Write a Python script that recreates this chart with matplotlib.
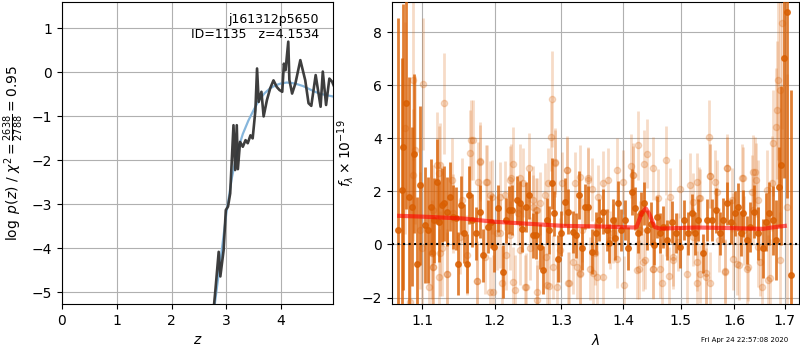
import matplotlib
matplotlib.use('Agg')
import matplotlib.pyplot as plt
from matplotlib.ticker import FormatStrFormatter, NullLocator

# --- p(z) panel ---
z_grid = [2.77, 2.80, 2.86, 2.89, 2.95, 2.99, 3.03, 3.07, 3.13, 3.16, 3.19, 3.21,
          3.25, 3.30, 3.35, 3.39, 3.44, 3.48, 3.53, 3.56, 3.59, 3.64, 3.68, 3.74,
          3.80, 3.86, 3.92, 3.97, 4.02, 4.05, 4.08, 4.13, 4.15, 4.20, 4.26, 4.35,
          4.44, 4.50, 4.55, 4.63, 4.72, 4.76, 4.82, 4.88, 4.93, 4.96]
logpz = [-5.35, -4.95, -4.08, -4.64, -4.04, -3.13, -3.05, -2.75, -1.20, -2.22, -1.20, -2.20,
         -1.58, -1.69, -1.54, -1.61, -1.43, -1.50, -0.86, 0.09, -0.67, -0.44, -1.00, -0.63,
         -0.36, -0.18, -0.33, -0.40, -0.44, 0.20, 0.05, 0.70, -0.17, -0.48, -0.25, 0.28,
         -0.18, -0.70, -0.76, -0.06, -0.78, 0.02, -0.74, -0.14, -0.21, -0.30]

z_smooth = [2.78, 2.90, 3.00, 3.10, 3.20, 3.30, 3.40, 3.50, 3.60, 3.70, 3.80, 3.90,
            4.00, 4.10, 4.20, 4.30, 4.40, 4.50, 4.60, 4.70, 4.80, 4.96]
logpz_smooth = [-5.35, -4.20, -3.20, -2.40, -1.80, -1.40, -1.10, -0.85, -0.62, -0.47, -0.36, -0.29,
                -0.25, -0.23, -0.24, -0.27, -0.31, -0.37, -0.43, -0.48, -0.51, -0.55]

# --- spectrum panel ---
dark_wave = [1.0688, 1.0732, 1.0753, 1.0787, 1.0826, 1.0861, 1.0891, 1.0934, 1.0970, 1.1036,
             1.1080, 1.1111, 1.1156, 1.1192, 1.1227, 1.1259, 1.1291, 1.1335, 1.1372, 1.1417,
             1.1454, 1.1486, 1.1523, 1.1565, 1.1602, 1.1638, 1.1680, 1.1732, 1.1789, 1.1836,
             1.1898, 1.1941, 1.1995, 1.2051, 1.2114, 1.2157, 1.2206, 1.2254, 1.2320, 1.2369,
             1.2403, 1.2458, 1.2508, 1.2559, 1.2605, 1.2669, 1.2719, 1.2771, 1.2807, 1.2849,
             1.2889, 1.2941, 1.2993, 1.3055, 1.3108, 1.3177, 1.3229, 1.3281, 1.3319, 1.3372,
             1.3415, 1.3480, 1.3550, 1.3603, 1.3670, 1.3726, 1.3769, 1.3825, 1.3863, 1.3908,
             1.3958, 1.4030, 1.4086, 1.4143, 1.4200, 1.4246, 1.4297, 1.4354, 1.4411, 1.4469,
             1.4527, 1.4574, 1.4632, 1.4690, 1.4761, 1.4839, 1.4915, 1.4987, 1.5059, 1.5126,
             1.5199, 1.5260, 1.5320, 1.5401, 1.5487, 1.5569, 1.5650, 1.5724, 1.5787, 1.5851,
             1.5927, 1.6010, 1.6074, 1.6121, 1.6172, 1.6238, 1.6300, 1.6379, 1.6464, 1.6551,
             1.6616, 1.6682, 1.6750, 1.6817, 1.6884, 1.6918, 1.6985, 1.7046, 1.7116]
dark_flux = [0.54, 2.05, 3.68, 5.32, 1.80, 1.42, 3.43, -0.72, 2.24, 0.73,
             0.54, 1.42, 0.92, 2.36, 0.85, 1.48, 1.55, 1.23, 1.80, 1.04,
             0.98, -0.72, 1.48, 0.42, -0.72, 1.86, 0.92, 0.42, 1.23, -0.40,
             0.66, 0.85, -0.09, 1.36, -1.03, 0.92, 1.29, 1.29, 1.67, 1.55,
             0.60, 1.42, 1.86, 0.35, 0.35, -0.09, -0.97, 0.92, 0.54, 2.30,
             1.17, -0.53, 0.42, 1.61, 1.23, 0.48, 0.35, 1.86, -0.15, 1.42,
             1.42, -0.28, 0.42, 0.92, 1.23, 0.54, 0.04, 0.92, 0.23, 1.55,
             0.54, 0.92, -0.15, 1.98, 1.36, 0.42, 1.17, 1.55, 0.54, 0.79,
             -0.03, 1.04, 0.42, 0.66, 0.16, 0.85, 0.42, -0.09, 0.92, 0.42,
             1.17, 0.42, 0.92, -0.34, 0.92, 0.92, 1.29, 0.42, 0.92, 1.55,
             0.85, 1.17, 1.42, 0.42, 1.17, 0.16, 0.66, 1.23, 0.42, -0.15,
             0.85, 1.17, 0.92, 0.16, 2.17, 2.99, 7.02, 8.75, -1.16]
dark_err = [8.0, 5.0, 5.4, 4.0, 4.5, 3.0, 3.0, 2.5, 3.0, 2.2,
            2.0, 1.8, 1.6, 1.6, 1.5, 1.4, 1.4, 1.3, 1.3, 1.2,
            1.2, 1.2, 1.1, 1.1, 1.1, 1.1, 1.0, 1.0, 1.0, 1.0,
            1.0, 1.0, 0.95, 0.9, 1.0, 0.85, 0.9, 0.95, 0.9, 0.85,
            0.9, 0.95, 0.9, 0.85, 0.9, 0.85, 0.9, 0.85, 0.9, 0.95,
            0.85, 0.9, 0.85, 0.9, 0.85, 0.8, 0.85, 0.9, 0.8, 0.85,
            0.8, 0.85, 0.8, 0.8, 0.85, 0.8, 0.75, 0.8, 0.8, 0.85,
            0.8, 0.75, 0.8, 0.85, 0.8, 0.75, 0.8, 0.8, 0.75, 0.8,
            0.75, 0.8, 0.75, 0.8, 0.75, 0.8, 0.75, 0.8, 0.75, 0.8,
            0.75, 0.8, 0.8, 0.75, 0.8, 0.8, 0.85, 0.8, 0.85, 0.8,
            0.85, 0.85, 0.9, 0.85, 0.9, 0.9, 0.95, 1.0, 1.0, 1.1,
            1.1, 1.2, 1.3, 1.5, 1.5, 3.0, 4.5, 7.0, 7.0]

light_wave = [1.0774, 1.0839, 1.0880, 1.0904, 1.0992, 1.1013, 1.1093, 1.1124, 1.1138, 1.1192,
              1.1222, 1.1227, 1.1259, 1.1295, 1.1327, 1.1395, 1.1532, 1.1602, 1.1648, 1.1694,
              1.1741, 1.1765, 1.1789, 1.1860, 1.1883, 1.1954, 1.1975, 1.2037, 1.2075, 1.2099,
              1.2221, 1.2231, 1.2259, 1.2269, 1.2369, 1.2418, 1.2453, 1.2508, 1.2518, 1.2569,
              1.2620, 1.2628, 1.2745, 1.2760, 1.2796, 1.2813, 1.2839, 1.2849, 1.2873, 1.2899,
              1.2936, 1.3004, 1.3082, 1.3123, 1.3213, 1.3249, 1.3292, 1.3319, 1.3425, 1.3453,
              1.3533, 1.3560, 1.3587, 1.3660, 1.3670, 1.3752, 1.3780, 1.3891, 1.3900, 1.4001,
              1.4010, 1.4129, 1.4170, 1.4257, 1.4265, 1.4285, 1.4354, 1.4371, 1.4411, 1.4504,
              1.4515, 1.4602, 1.4632, 1.4733, 1.4796, 1.4808, 1.4866, 1.4957, 1.5118, 1.5168,
              1.5217, 1.5229, 1.5290, 1.5299, 1.5338, 1.5462, 1.5524, 1.5530, 1.5536, 1.5630,
              1.5711, 1.5819, 1.5862, 1.5946, 1.5966, 1.6093, 1.6152, 1.6185, 1.6267, 1.6333,
              1.6365, 1.6418, 1.6464, 1.6470, 1.6530, 1.6656, 1.6730, 1.6750, 1.6817, 1.6844,
              1.6850, 1.6898, 1.6938, 1.7034,
              # second pass, points hidden among the denser parts
              1.0881, 1.1236, 1.1658, 1.1789, 1.1874, 1.1931, 1.2143, 1.2221, 1.2369, 1.2609,
              1.2669, 1.2899, 1.3082, 1.3292, 1.3425, 1.3480, 1.1236, 1.1124, 1.1145, 1.1327,
              1.1751, 1.1931, 1.2167, 1.2294, 1.2443, 1.2620, 1.2771, 1.3108, 1.3292, 1.3505,
              1.3186, 1.2977, 1.2075, 1.1509, 1.0970, 1.2344, 1.2569, 1.1145, 1.1417, 1.4170,
              1.4987, 1.5290, 1.5536, 1.5851, 1.6398, 1.6629, 1.5351, 1.5661, 1.6172, 1.4228,
              1.4515, 1.4866, 1.5351, 1.5466, 1.5819, 1.6049, 1.6238, 1.6497, 1.6696, 1.6898,
              1.4661, 1.4342, 1.3836, 1.4747, 1.5976, 1.6365]
light_flux = [4.38, -2.17, 6.20, 3.56, -0.15, 6.05, -1.60, -0.34, -0.85, 2.99,
              2.68, -1.22, -0.15, 5.32, -1.12, 2.43, 1.67, -0.40, 3.46, 3.94,
              -1.38, 2.36, 3.13, -0.47, 2.36, 1.80, -1.79, 0.42, 1.80, -1.47,
              0.35, 2.49, -1.41, 3.03, -0.22, 2.32, -1.62, 2.90, -0.15, 1.67,
              1.29, -2.08, 1.86, -0.47, 2.32, -1.57, 4.06, 5.48, -0.85, 3.09,
              -1.62, 2.30, 2.80, -1.47, 2.30, -0.85, -1.12, 0.54, 2.49, -0.91,
              -0.34, -1.22, 1.80, 2.32, -1.22, 2.43, 0.16, 2.80, -0.53, 2.36,
              -1.54, 2.97, 2.61, 3.75, -0.94, 0.54, 3.02, -0.59, 3.43, -0.91,
              2.87, 1.74, -0.91, 3.18, -1.20, 1.80, -0.59, 0.10, -1.12, 2.24,
              1.61, 0.29, -0.66, -1.45, 1.74, -1.09, 4.06, 2.58, -1.47, 2.36,
              0.16, -1.00, 2.87, 1.67, -0.53, -0.78, 2.49, 0.54, -0.85, 1.98,
              2.74, 2.43, 1.67, -0.09, -1.60, -1.35, 2.30, 3.81, 4.44, 5.07,
              6.20, 5.82, 8.34, 1.42,
              2.62, 2.99, 3.94, 3.12, 2.36, 1.86, 1.86, 2.43, 2.49, 1.29,
              1.55, 3.12, 2.80, 2.55, 2.43, 2.08, -0.34, -0.34, -0.85, -1.12,
              -1.37, -1.79, -0.40, -1.70, -1.60, -1.79, -1.54, -1.47, -1.09, -1.09,
              -0.66, -0.22, 0.42, 0.29, 0.54, 1.17, 1.42, 1.29, 1.17, 2.61,
              2.11, 2.36, 2.59, 2.87, 2.74, 2.05, 1.74, 1.98, 2.49, -0.97,
              -0.94, -0.47, -1.12, -1.22, -1.03, -0.72, -0.94, -0.66, -1.28, -0.59,
              -1.47, -0.66, 0.42, 0.66, 0.73, 1.29]
light_err = [4.0, 3.5, 3.0, 2.8, 2.5, 2.5, 2.2, 2.0, 2.0, 2.0,
             1.8, 1.8, 1.8, 1.9, 1.7, 1.6, 1.6, 1.5, 1.6, 1.5,
             1.5, 1.5, 1.5, 1.4, 1.4, 1.4, 1.4, 1.4, 1.3, 1.4,
             1.3, 1.3, 1.3, 1.4, 1.3, 1.3, 1.3, 1.3, 1.2, 1.3,
             1.2, 1.3, 1.2, 1.2, 1.3, 1.2, 1.3, 1.8, 1.2, 1.3,
             1.2, 1.2, 1.3, 1.2, 1.2, 1.2, 1.2, 1.2, 1.2, 1.2,
             1.2, 1.2, 1.2, 1.2, 1.2, 1.2, 1.1, 1.2, 1.1, 1.2,
             1.1, 1.2, 1.2, 1.3, 1.1, 1.1, 1.3, 1.1, 1.3, 1.1,
             1.2, 1.1, 1.1, 1.3, 1.1, 1.1, 1.1, 1.1, 1.1, 1.2,
             1.1, 1.1, 1.1, 1.2, 1.2, 1.2, 1.4, 1.2, 1.2, 1.2,
             1.2, 1.2, 1.3, 1.2, 1.2, 1.3, 1.3, 1.3, 1.3, 1.4,
             1.4, 1.4, 1.5, 1.5, 1.6, 1.7, 1.8, 2.0, 2.2, 2.6,
             3.0, 3.5, 4.0, 5.0,
             2.5, 1.6, 1.5, 1.4, 1.4, 1.3, 1.3, 1.3, 1.3, 1.2,
             1.2, 1.2, 1.2, 1.2, 1.2, 1.2, 1.6, 1.7, 1.7, 1.6,
             1.4, 1.3, 1.3, 1.3, 1.2, 1.2, 1.2, 1.2, 1.2, 1.2,
             1.2, 1.2, 1.3, 1.4, 2.2, 1.2, 1.2, 1.7, 1.5, 1.1,
             1.1, 1.1, 1.2, 1.2, 1.3, 1.5, 1.1, 1.2, 1.2, 1.1,
             1.1, 1.1, 1.1, 1.1, 1.2, 1.2, 1.3, 1.3, 1.5, 1.8,
             1.1, 1.1, 1.1, 1.1, 1.2, 1.3]

model_wave = [1.0700, 1.1000, 1.1550, 1.1980, 1.2500, 1.3046, 1.3600, 1.4170, 1.4228, 1.4313,
              1.4386, 1.4443, 1.4541, 1.4632, 1.5290, 1.5900, 1.6563, 1.6696, 1.6999]
model_flux = [1.08, 1.05, 0.98, 0.86, 0.78, 0.70, 0.68, 0.64, 0.66, 1.17,
              1.36, 1.17, 0.66, 0.60, 0.64, 0.62, 0.59, 0.63, 0.70]

fig = plt.figure(figsize=(8, 3.5), dpi=100)
ax1 = fig.add_axes([0.0775, 0.131, 0.339, 0.863])
ax2 = fig.add_axes([0.4896, 0.131, 0.509, 0.863])

ax1.plot(z_smooth, logpz_smooth, color='#86b6dc', lw=1.6, zorder=2)
ax1.plot(z_grid, logpz, color='0.2', alpha=0.95, lw=1.9, zorder=3)
ax1.set_xlim(0, 4.95)
ax1.set_ylim(-5.27, 1.6)
ax1.set_xlabel('$z$')
ax1.set_ylabel(r'$\log\ p(z)$ / $\chi^2=\frac{2638}{2788}=0.95$')
ax1.text(0.948, 0.965, 'j161312p5650\nID=1135   z=4.1534', transform=ax1.transAxes,
         ha='right', va='top', fontsize=9)
ax1.grid()

col = '#d95f02'
ax2.errorbar(light_wave, light_flux, yerr=light_err, fmt='o', color=col, alpha=0.22,
             ms=4.5, elinewidth=2, zorder=2)
ax2.errorbar(dark_wave, dark_flux, yerr=dark_err, fmt='o', color=col, alpha=0.8,
             ms=4, elinewidth=2, zorder=3)
ax2.plot(model_wave, model_flux, color='red', alpha=0.6, lw=3, zorder=5)
ax2.axhline(0, color='black', ls=':', lw=1.5, zorder=6)
ax2.set_xscale('log')
ax2.set_xlim(1.0604, 1.7288)
ax2.set_ylim(-2.25, 9.14)
ax2.set_xticks([1.1, 1.2, 1.3, 1.4, 1.5, 1.6, 1.7])
ax2.xaxis.set_major_formatter(FormatStrFormatter('%.1f'))
ax2.xaxis.set_minor_locator(NullLocator())
ax2.set_xlabel(r'$\lambda$')
ax2.set_ylabel(r'$f_\lambda\times10^{-19}$')
ax2.grid()

fig.text(0.985, 0.028, 'Fri Apr 24 22:57:08 2020', ha='right', va='center', fontsize=5)

fig.savefig('out.png', dpi=100)
